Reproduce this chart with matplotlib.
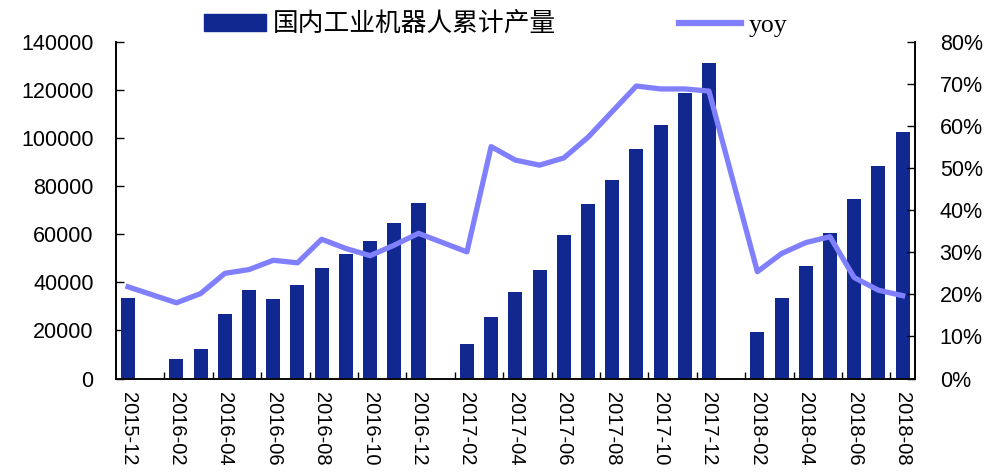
import numpy as np
import matplotlib
matplotlib.use('Agg')
import matplotlib.pyplot as plt
from matplotlib.lines import Line2D
from matplotlib.patches import Patch

# monthly data, 2015-12 .. 2018-08 (January has no value)
months = ['2015-12', '2016-01', '2016-02', '2016-03', '2016-04', '2016-05', '2016-06',
          '2016-07', '2016-08', '2016-09', '2016-10', '2016-11', '2016-12',
          '2017-01', '2017-02', '2017-03', '2017-04', '2017-05', '2017-06',
          '2017-07', '2017-08', '2017-09', '2017-10', '2017-11', '2017-12',
          '2018-01', '2018-02', '2018-03', '2018-04', '2018-05', '2018-06',
          '2018-07', '2018-08']

output = [33700, np.nan, 8100, 12100, 26800, 37000, 32900,
          39100, 46000, 51900, 57000, 64600, 72900,
          np.nan, 14300, 25700, 35800, 45000, 59500,
          72400, 82400, 95600, 105300, 118800, 131300,
          np.nan, 19400, 33500, 46800, 60500, 74500,
          88200, 102400]

yoy = [21.8, np.nan, 18.0, 20.2, 25.0, 25.9, 28.1,
       27.5, 33.1, 30.9, 29.2, 31.7, 34.5,
       np.nan, 30.1, 55.1, 51.9, 50.7, 52.4,
       57.3, 63.4, 69.5, 68.8, 68.8, 68.3,
       np.nan, 25.4, 29.7, 32.3, 33.7, 24.0,
       21.0, 19.7]

bar_label = '国内工业机器人累计产量'
line_label = 'yoy'

bar_color = '#10288F'
line_color = '#8080FF'

plt.rcParams['font.family'] = ['Liberation Sans', 'DejaVu Sans']

fig = plt.figure(figsize=(9.91, 4.75), dpi=100)
ax = fig.add_axes([0.117, 0.203, 0.806, 0.709])
ax2 = ax.twinx()

x = np.arange(len(months))
ax.bar(x, output, width=0.58, color=bar_color, zorder=2)

# the line skips the empty January points and joins the neighbours
yoy_arr = np.array(yoy, dtype=float)
ok = ~np.isnan(yoy_arr)
ax2.plot(x[ok], yoy_arr[ok], color=line_color, lw=3.8, zorder=3)

ax.set_xlim(-0.5, len(months) - 0.5)
ax.set_ylim(0, 140000)
ax2.set_ylim(0, 80)

ax.set_yticks(np.arange(0, 140001, 20000))
ax.set_yticklabels([str(v) for v in range(0, 140001, 20000)], fontsize=15.5)
ax2.set_yticks(np.arange(0, 81, 10))
ax2.set_yticklabels(['%d%%' % v for v in range(0, 81, 10)], fontsize=15.5)

ax.set_xticks(x[::2])
ax.set_xticklabels(months[::2], rotation=270, fontsize=14.5, va='top', ha='center')
ax.tick_params(axis='x', which='major', length=0, pad=10)
ax.set_xticks(x[1::2] + 0.5, minor=True)
ax.tick_params(axis='x', which='minor', direction='in', length=5, width=1)

ax.tick_params(axis='y', direction='in', length=6, width=1, pad=16)
ax2.tick_params(axis='y', direction='in', length=6, width=1, pad=18)

for a in (ax, ax2):
    a.spines['top'].set_visible(False)
    for s in ('left', 'right', 'bottom'):
        a.spines[s].set_linewidth(1.2)
ax.spines['bottom'].set_color('#404040')
ax.set_zorder(ax2.get_zorder() - 1)
ax.patch.set_visible(True)
ax2.patch.set_visible(False)

handles = [Patch(facecolor=bar_color, edgecolor=bar_color),
           Line2D([0], [0], color=line_color, lw=4.5)]
leg = fig.legend(handles, [bar_label, line_label], loc='center', ncol=2,
                 bbox_to_anchor=(0.5, 0.948), frameon=False, columnspacing=4.8,
                 handlelength=2.4, handleheight=0.6, handletextpad=0.28, fontsize=18.5)
leg.get_texts()[0].set_fontfamily(['Noto Sans CJK SC', 'DejaVu Sans'])
leg.get_texts()[1].set_fontfamily(['Liberation Serif', 'DejaVu Serif'])

fig.savefig('out.png', dpi=100)
